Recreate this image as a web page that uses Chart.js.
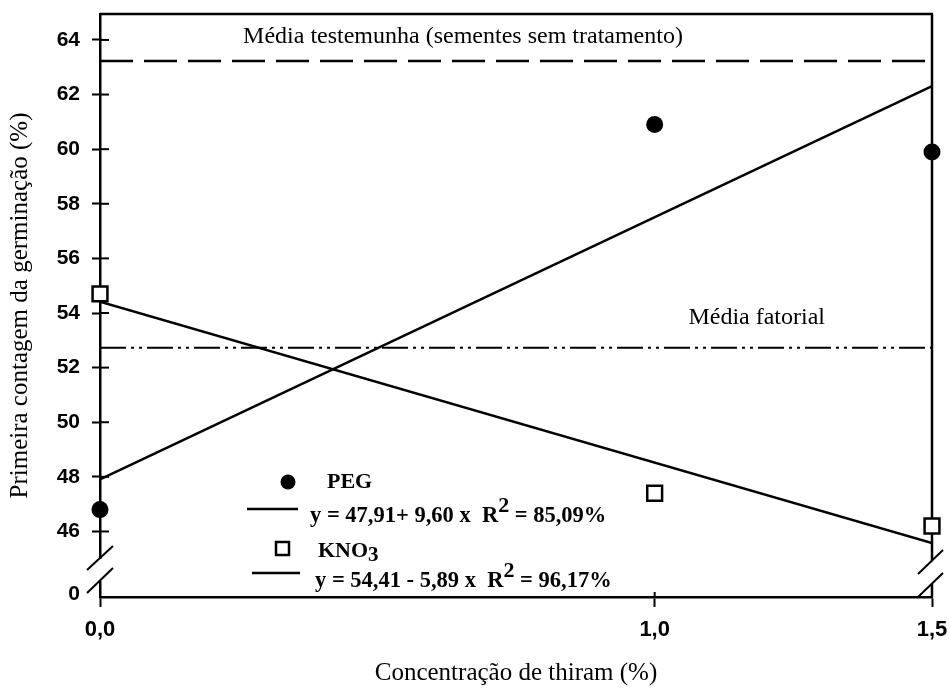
<!DOCTYPE html>
<html lang="pt">
<head>
<meta charset="UTF-8">
<title>Primeira contagem da germinação</title>
<script src="https://cdn.jsdelivr.net/npm/chart.js"></script>
<style>
  html, body { margin: 0; padding: 0; background: #fff; }
  #wrap { width: 949px; height: 694px; }
</style>
</head>
<body>
<div id="wrap"><canvas id="chart" width="949" height="694"></canvas></div>
<script>
// doses de thiram (%) e rótulos do eixo x
const doses = [0, 1.0, 1.5];
const doseLabels = ['0,0', '1,0', '1,5'];

// médias observadas
const pegValues = [46.8, 60.9, 59.9];
const kno3Values = [54.7, 47.4, 46.2];

// retas ajustadas, extremos em x = 0 e x = 1,5
const fitX = [0, 1.5];
const pegFit = [47.91, 62.31];
const kno3Fit = [54.41, 45.58];

// médias de referência
const testemunhaMean = 63.23;
const fatorialMean = 52.73;

// eixo y quebrado: o "0" fica logo abaixo do 46
const yTicks = [46, 48, 50, 52, 54, 56, 58, 60, 62, 64];
const yBreakValue = 43.7;

const serif = '"Liberation Serif", "Times New Roman", serif';
const sans = '"Liberation Sans", Arial, sans-serif';

const pts = (xs, ys) => xs.map((x, i) => ({ x: x, y: ys[i] }));

function line(ctx, x1, y1, x2, y2, w) {
    ctx.lineWidth = w;
    ctx.beginPath();
    ctx.moveTo(x1, y1);
    ctx.lineTo(x2, y2);
    ctx.stroke();
}

function drawRuns(ctx, runs, x, y) {
    let cx = x;
    for (const r of runs) {
        ctx.font = 'bold ' + r[1] + 'px ' + serif;
        ctx.fillText(r[0], cx, y + r[2]);
        cx += ctx.measureText(r[0]).width;
    }
}

const frame = {
    id: 'frame',
    beforeDatasetsDraw(chart) {
        const { ctx, chartArea: a, scales: { x, y } } = chart;
        ctx.save();
        ctx.strokeStyle = '#000';
        ctx.lineCap = 'butt';
        // moldura de cima e da direita (com quebra)
        line(ctx, a.left, a.top, a.right + 1, a.top, 2.5);
        line(ctx, a.right, a.top, a.right, a.bottom - 37, 2.5);
        line(ctx, a.right, a.bottom - 13, a.right, a.bottom, 2.5);
        // parte interna dos traços do eixo y
        yTicks.forEach(v => {
            const py = y.getPixelForValue(v);
            line(ctx, a.left, py, a.left + 9, py, 2);
        });
        const p1 = x.getPixelForValue(doses[1]);
        line(ctx, p1, a.bottom, p1, a.bottom - 5, 2);
        // quebra do eixo y
        ctx.fillStyle = '#fff';
        ctx.fillRect(a.left - 2, a.bottom - 38, 4, 22);
        line(ctx, a.left - 13, a.bottom - 27, a.left + 13, a.bottom - 51, 2);
        line(ctx, a.left - 13, a.bottom - 4, a.left + 13, a.bottom - 29, 2);
        line(ctx, a.right - 14, a.bottom - 23, a.right + 11, a.bottom - 47, 2);
        line(ctx, a.right - 14, a.bottom, a.right + 11, a.bottom - 24, 2);
        ctx.restore();
    },
    afterDraw(chart) {
        const { ctx, chartArea: a, scales: { x, y } } = chart;
        ctx.save();
        ctx.fillStyle = '#000';
        ctx.strokeStyle = '#000';
        ctx.textBaseline = 'middle';

        ctx.font = '24px ' + serif;
        ctx.textAlign = 'center';
        ctx.fillText('Média testemunha (sementes sem tratamento)', a.left + 363, y.getPixelForValue(testemunhaMean) - 24);
        ctx.textAlign = 'right';
        ctx.fillText('Média fatorial', a.left + 725, y.getPixelForValue(fatorialMean) - 30);

        // legenda
        const lx = a.left, ly = a.bottom;
        ctx.textAlign = 'left';
        ctx.beginPath();
        ctx.arc(lx + 188, ly - 115, 7.5, 0, Math.PI * 2);
        ctx.fill();
        ctx.font = 'bold 22px ' + serif;
        ctx.fillText('PEG', lx + 227, ly - 115);
        line(ctx, lx + 147, ly - 88, lx + 198, ly - 88, 2.5);

        ctx.textBaseline = 'alphabetic';
        drawRuns(ctx, [['y = 47,91+ 9,60 x  R', 22.5, 0], ['2', 22, -10], [' = 85,09%', 22.5, 0]], lx + 210, ly - 75);

        ctx.fillStyle = '#fff';
        ctx.fillRect(lx + 176, ly - 55, 13, 13);
        ctx.lineWidth = 2.5;
        ctx.strokeRect(lx + 176, ly - 55, 13, 13);
        ctx.fillStyle = '#000';
        drawRuns(ctx, [['KNO', 22, 0], ['3', 21, 4]], lx + 218, ly - 40);
        line(ctx, lx + 152, ly - 24, lx + 200, ly - 24, 2.5);
        drawRuns(ctx, [['y = 54,41 - 5,89 x  R', 22.5, 0], ['2', 22, -10], [' = 96,17%', 22.5, 0]], lx + 215, ly - 10);
        ctx.restore();
    }
};

new Chart(document.getElementById('chart'), {
    type: 'scatter',
    data: {
        datasets: [
            { label: 'PEG', data: pts(doses, pegValues), pointStyle: 'circle', pointRadius: 8.5,
              backgroundColor: '#000', borderColor: '#000', borderWidth: 0, clip: false, order: 0 },
            { label: 'KNO3', data: pts(doses, kno3Values), pointStyle: 'rect', pointRadius: 10.5,
              backgroundColor: '#fff', borderColor: '#000', borderWidth: 2.5, clip: false, order: 1 },
            { type: 'line', data: pts(fitX, pegFit), showLine: true, borderColor: '#000', borderWidth: 2.5,
              pointRadius: 0, fill: false, order: 2 },
            { type: 'line', data: pts(fitX, kno3Fit), showLine: true, borderColor: '#000', borderWidth: 2.5,
              pointRadius: 0, fill: false, order: 3 },
            { type: 'line', data: pts(fitX, [testemunhaMean, testemunhaMean]), showLine: true, borderColor: '#000',
              borderWidth: 2.5, borderDash: [33, 11], pointRadius: 0, fill: false, order: 4 },
            { type: 'line', data: pts(fitX, [fatorialMean, fatorialMean]), showLine: true, borderColor: '#000',
              borderWidth: 2, borderDash: [26, 5, 3, 5, 3, 5], pointRadius: 0, fill: false, order: 5 }
        ]
    },
    options: {
        responsive: false,
        animation: false,
        layout: { padding: { top: 14, right: 17, left: 0, bottom: 0 } },
        plugins: { legend: { display: false }, tooltip: { enabled: false } },
        scales: {
            x: {
                type: 'linear',
                min: 0,
                max: 1.5,
                afterBuildTicks: s => { s.ticks = doses.map(v => ({ value: v })); },
                afterFit: s => { s.height = 97; s.paddingLeft = 0; s.paddingRight = 0; },
                ticks: {
                    autoSkip: false,
                    maxRotation: 0,
                    padding: 10,
                    color: '#000',
                    font: { family: sans, size: 22, weight: 'bold' },
                    callback: v => doseLabels[doses.indexOf(v)]
                },
                grid: { drawOnChartArea: false, tickLength: 10, tickWidth: 2, color: '#000' },
                border: { color: '#000', width: 2.5 },
                title: {
                    display: true,
                    text: 'Concentração de thiram (%)',
                    color: '#000',
                    font: { family: serif, size: 25 },
                    padding: { top: 0, bottom: 6 }
                }
            },
            y: {
                min: 43.6,
                max: 64.95,
                afterBuildTicks: s => { s.ticks = [yBreakValue].concat(yTicks).map(v => ({ value: v })); },
                afterFit: s => { s.width = 100; s.paddingTop = 0; s.paddingBottom = 0; },
                ticks: {
                    padding: 12,
                    color: '#000',
                    font: { family: sans, size: 21, weight: 'bold' },
                    callback: v => (v === yBreakValue ? '0' : String(v))
                },
                grid: {
                    drawOnChartArea: false,
                    tickLength: 8,
                    tickWidth: 2,
                    color: '#000',
                    tickColor: c => (c.tick && c.tick.value === yBreakValue ? 'rgba(0,0,0,0)' : '#000')
                },
                border: { color: '#000', width: 2.5 },
                title: {
                    display: true,
                    text: 'Primeira contagem da germinação (%)',
                    color: '#000',
                    font: { family: serif, size: 25 },
                    padding: { top: 5, bottom: 0 }
                }
            }
        }
    },
    plugins: [frame]
});
</script>
</body>
</html>
